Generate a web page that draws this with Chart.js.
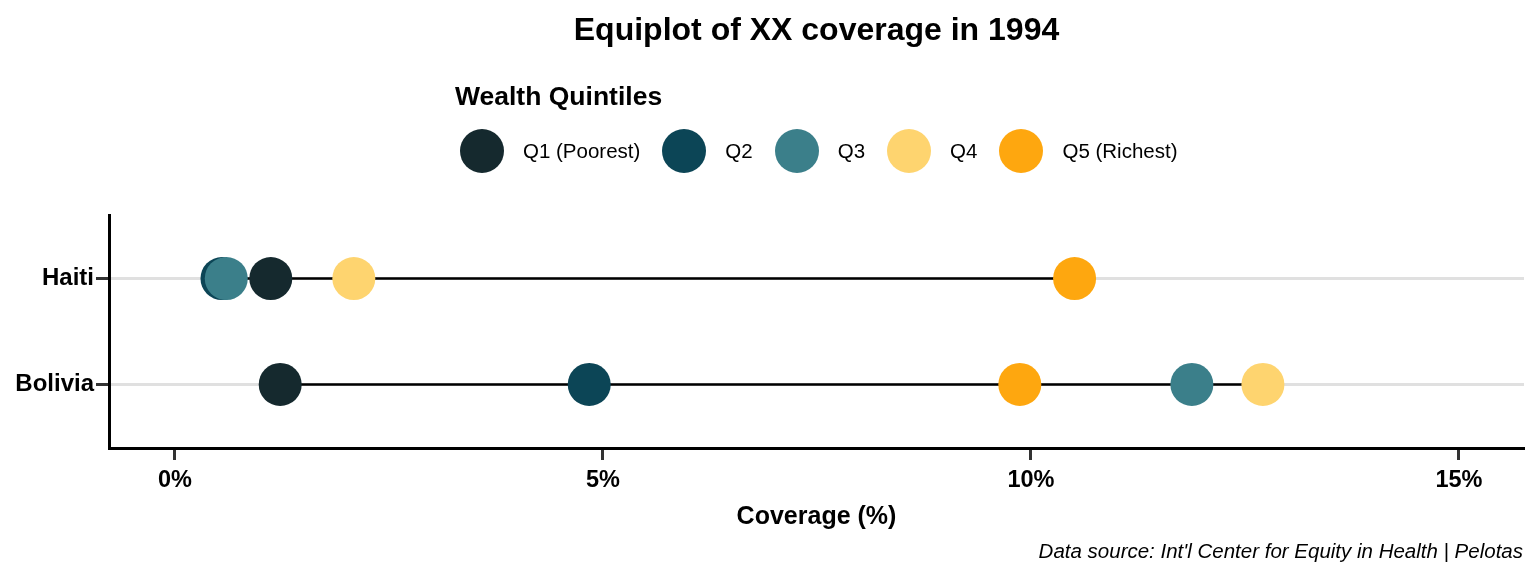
<!DOCTYPE html>
<html>
<head>
<meta charset="utf-8">
<title>Equiplot of XX coverage in 1994</title>
<script src="https://cdn.jsdelivr.net/npm/chart.js@4.4.1/dist/chart.umd.min.js"></script>
<style>
  body { margin: 0; background: #fff; font-family: "Liberation Sans", Arial, Helvetica, sans-serif; }
  #wrap { position: relative; width: 1536px; height: 576px; }
  #chart { position: absolute; left: 0; top: 0; }
  #title { position: absolute; left: 109px; width: 1415px; top: 11px; text-align: center;
           font-weight: bold; font-size: 32px; color: #000; }
  #legendTitle { position: absolute; left: 455px; top: 81px; font-weight: bold; font-size: 26.5px; color: #000; }
  #legend { position: absolute; left: 460px; top: 129px; display: flex; align-items: center; }
  .item { display: flex; align-items: center; margin-right: 22px; font-size: 20.5px; color: #000; }
  .dot { width: 44px; height: 44px; border-radius: 50%; margin-right: 19px; }
  #caption { position: absolute; right: 13px; top: 539px; font-style: italic; font-size: 20.5px; color: #000; }
</style>
</head>
<body>
<div id="wrap">
  <canvas id="chart" width="1536" height="576"></canvas>
  <div id="title">Equiplot of XX coverage in 1994</div>
  <div id="legendTitle">Wealth Quintiles</div>
  <div id="legend"></div>
  <div id="caption">Data source: Int'l Center for Equity in Health | Pelotas</div>
</div>
<script>
const countries = ["Bolivia", "Haiti"];
const quintiles = ["Q1 (Poorest)", "Q2", "Q3", "Q4", "Q5 (Richest)"];
const quintileColors = ["#15292e", "#0c4556", "#3b7f8a", "#fed46f", "#fea70f"];
// coverage (%) per country, same order as countries
const q1 = [1.23, 1.12];
const q2 = [4.84, 0.55];
const q3 = [11.88, 0.60];
const q4 = [12.71, 2.09];
const q5 = [9.87, 10.51];
const xTicks = [0, 5, 10, 15];

const series = [q1, q2, q3, q4, q5];
const fontFamily = '"Liberation Sans", Arial, Helvetica, sans-serif';

// legend
const legend = document.getElementById("legend");
quintiles.forEach((name, i) => {
  const item = document.createElement("div");
  item.className = "item";
  const dot = document.createElement("div");
  dot.className = "dot";
  dot.style.background = quintileColors[i];
  item.appendChild(dot);
  item.appendChild(document.createTextNode(name));
  legend.appendChild(item);
});

// dumbbell lines from min to max per country
const lineSets = countries.map((c, ci) => {
  const vals = series.map((s) => s[ci]);
  return {
    type: "line",
    data: [
      { x: Math.min(...vals), y: ci + 1 },
      { x: Math.max(...vals), y: ci + 1 },
    ],
    borderColor: "#000",
    borderWidth: 2.5,
    pointRadius: 0,
    showLine: true,
    order: 10,
  };
});

const dotSets = quintiles.map((name, qi) => ({
  label: name,
  data: countries.map((c, ci) => ({ x: series[qi][ci], y: ci + 1 })),
  backgroundColor: quintileColors[qi],
  borderWidth: 0,
  pointRadius: 21.5,
  pointHoverRadius: 21.5,
  order: 5 - qi,
}));

new Chart(document.getElementById("chart"), {
  type: "scatter",
  data: { datasets: [...lineSets, ...dotSets] },
  options: {
    responsive: false,
    animation: false,
    events: [],
    layout: { autoPadding: false, padding: { top: 215, right: 12, left: 0, bottom: 0 } },
    plugins: {
      legend: { display: false },
      tooltip: { enabled: false },
    },
    scales: {
      x: {
        min: -0.77,
        max: 15.76,
        afterFit: (s) => { s.height = 128; },
        afterBuildTicks: (s) => { s.ticks = xTicks.map((v) => ({ value: v })); },
        border: { color: "#000", width: 3 },
        grid: { drawOnChartArea: false, tickColor: "#333", tickLength: 12, tickWidth: 3 },
        ticks: {
          padding: 6,
          color: "#000",
          font: { family: fontFamily, size: 23.5, weight: "bold" },
          callback: (v) => v + "%",
        },
        title: {
          display: true,
          text: "Coverage (%)",
          color: "#000",
          font: { family: fontFamily, size: 25, weight: "bold" },
          padding: { top: 0, bottom: 44 },
        },
      },
      y: {
        min: 0.4,
        max: 2.6,
        afterFit: (s) => { s.width = 109; },
        afterBuildTicks: (s) => { s.ticks = countries.map((c, i) => ({ value: i + 1 })); },
        border: { color: "#000", width: 3 },
        grid: { color: "#e0e0e0", lineWidth: 3, tickColor: "#333", tickLength: 13, tickWidth: 3 },
        ticks: {
          padding: 2,
          color: "#000",
          font: { family: fontFamily, size: 24, weight: "bold" },
          callback: (v) => countries[Math.round(v) - 1],
        },
      },
    },
  },
});
</script>
</body>
</html>
